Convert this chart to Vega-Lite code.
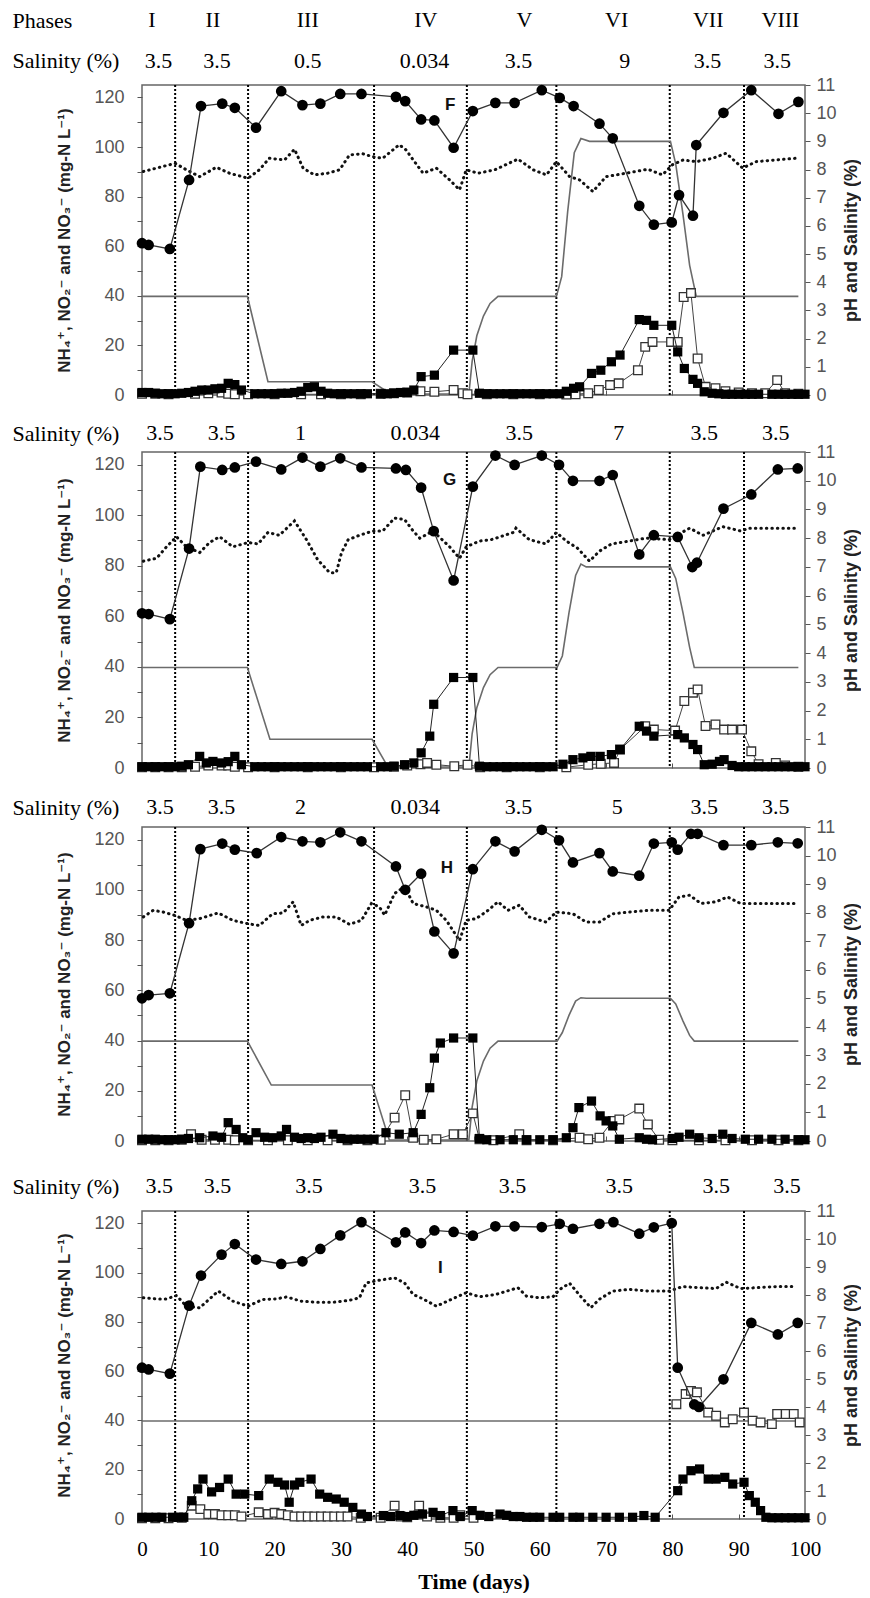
{
"$schema": "https://vega.github.io/schema/vega-lite/v6.json",
"padding": {"left": 12, "top": 0, "right": 0, "bottom": 0},
"spacing": 0,
"bounds": "flush",
"config": {"view": {"stroke": "#666", "strokeWidth": 1.5}, "axis": {"grid": false, "domain": false}, "font": "Liberation Sans"},
"datasets": {
"phase": [{"d":5},{"d":16},{"d":35},{"d":49},{"d":62.5},{"d":79.6},{"d":90.8}],
"lab": [{"p":"F","d":46.5,"v":117,"t":"F"},{"p":"G","d":46.4,"v":114,"t":"G"},{"p":"H","d":46,"v":108.5,"t":"H"},{"p":"I","d":45,"v":102,"t":"I"}],
"hdr": [
{"p":"F","r":"Phases","d":1.5,"t":"I"},{"p":"F","r":"Phases","d":10.7,"t":"II"},{"p":"F","r":"Phases","d":25,"t":"III"},{"p":"F","r":"Phases","d":42.8,"t":"IV"},{"p":"F","r":"Phases","d":57.7,"t":"V"},{"p":"F","r":"Phases","d":71.6,"t":"VI"},{"p":"F","r":"Phases","d":85.4,"t":"VII"},{"p":"F","r":"Phases","d":96.3,"t":"VIII"},
{"p":"F","r":"Salinity (%)","d":2.5,"t":"3.5"},{"p":"F","r":"Salinity (%)","d":11.3,"t":"3.5"},{"p":"F","r":"Salinity (%)","d":25,"t":"0.5"},{"p":"F","r":"Salinity (%)","d":42.6,"t":"0.034"},{"p":"F","r":"Salinity (%)","d":56.8,"t":"3.5"},{"p":"F","r":"Salinity (%)","d":72.8,"t":"9"},{"p":"F","r":"Salinity (%)","d":85.3,"t":"3.5"},{"p":"F","r":"Salinity (%)","d":95.8,"t":"3.5"},
{"p":"G","r":"Salinity (%)","d":2.7,"t":"3.5"},{"p":"G","r":"Salinity (%)","d":12,"t":"3.5"},{"p":"G","r":"Salinity (%)","d":23.9,"t":"1"},{"p":"G","r":"Salinity (%)","d":41.2,"t":"0.034"},{"p":"G","r":"Salinity (%)","d":56.9,"t":"3.5"},{"p":"G","r":"Salinity (%)","d":71.9,"t":"7"},{"p":"G","r":"Salinity (%)","d":84.8,"t":"3.5"},{"p":"G","r":"Salinity (%)","d":95.6,"t":"3.5"},
{"p":"H","r":"Salinity (%)","d":2.7,"t":"3.5"},{"p":"H","r":"Salinity (%)","d":12,"t":"3.5"},{"p":"H","r":"Salinity (%)","d":23.9,"t":"2"},{"p":"H","r":"Salinity (%)","d":41.2,"t":"0.034"},{"p":"H","r":"Salinity (%)","d":56.8,"t":"3.5"},{"p":"H","r":"Salinity (%)","d":71.7,"t":"5"},{"p":"H","r":"Salinity (%)","d":84.8,"t":"3.5"},{"p":"H","r":"Salinity (%)","d":95.6,"t":"3.5"},
{"p":"I","r":"Salinity (%)","d":2.6,"t":"3.5"},{"p":"I","r":"Salinity (%)","d":11.4,"t":"3.5"},{"p":"I","r":"Salinity (%)","d":25.2,"t":"3.5"},{"p":"I","r":"Salinity (%)","d":42.3,"t":"3.5"},{"p":"I","r":"Salinity (%)","d":55.9,"t":"3.5"},{"p":"I","r":"Salinity (%)","d":72,"t":"3.5"},{"p":"I","r":"Salinity (%)","d":86.6,"t":"3.5"},{"p":"I","r":"Salinity (%)","d":97.3,"t":"3.5"}
],
"F_NH4": [{"d":0,"v":61.2},{"d":1,"v":60.5},{"d":4.2,"v":58.9},{"d":7.1,"v":86.7},{"d":8.9,"v":116.5},{"d":12.1,"v":117.5},{"d":14,"v":115.8},{"d":17.2,"v":107.8},{"d":21,"v":122.5},{"d":24.2,"v":116.9},{"d":26.9,"v":117.5},{"d":29.9,"v":121.4},{"d":33.1,"v":121.4},{"d":38.3,"v":120.2},{"d":39.7,"v":118.5},{"d":42.1,"v":111.1},{"d":44.1,"v":110.7},{"d":47,"v":99.7},{"d":49.9,"v":114.5},{"d":53.3,"v":117.8},{"d":56.2,"v":117.8},{"d":60.3,"v":122.9},{"d":63,"v":119.8},{"d":65.1,"v":116.5},{"d":69,"v":109.4},{"d":71,"v":103.5},{"d":75,"v":76.3},{"d":77.2,"v":68.7},{"d":79.9,"v":69.6},{"d":81,"v":80.6},{"d":83.1,"v":72.3},{"d":83.6,"v":100.8},{"d":87.7,"v":113.8},{"d":91.9,"v":122.9},{"d":96,"v":113.4},{"d":99,"v":118.2}],
"F_pH": [{"d":0.2,"v":7.93},{"d":5,"v":8.22},{"d":6.7,"v":7.99},{"d":8.7,"v":7.75},{"d":11.2,"v":8.08},{"d":13.2,"v":7.87},{"d":16,"v":7.69},{"d":17.7,"v":7.99},{"d":19.2,"v":8.4},{"d":21.5,"v":8.34},{"d":23,"v":8.72},{"d":24.3,"v":8.05},{"d":26,"v":7.81},{"d":28,"v":7.87},{"d":29.8,"v":7.99},{"d":31.3,"v":8.52},{"d":33.3,"v":8.56},{"d":34.7,"v":8.46},{"d":36.3,"v":8.4},{"d":38.8,"v":8.88},{"d":39.8,"v":8.7},{"d":41.1,"v":8.28},{"d":42.4,"v":7.87},{"d":44.4,"v":8.05},{"d":46.4,"v":7.63},{"d":47.9,"v":7.28},{"d":48.9,"v":7.99},{"d":50.7,"v":7.87},{"d":53.2,"v":7.99},{"d":56.7,"v":8.37},{"d":59,"v":7.99},{"d":61,"v":7.81},{"d":62.5,"v":8.28},{"d":64.5,"v":7.75},{"d":66,"v":7.63},{"d":68,"v":7.22},{"d":70,"v":7.75},{"d":73,"v":7.87},{"d":76.3,"v":8.01},{"d":78.5,"v":7.81},{"d":80,"v":8.17},{"d":81.6,"v":8.34},{"d":83.6,"v":8.28},{"d":86.1,"v":8.4},{"d":88.1,"v":8.58},{"d":90.6,"v":8.05},{"d":92.6,"v":8.28},{"d":95.6,"v":8.34},{"d":98.6,"v":8.4}],
"F_Sal": [{"d":0,"v":3.5},{"d":15.9,"v":3.5},{"d":19,"v":0.47},{"d":34.7,"v":0.47},{"d":37.5,"v":0.034},{"d":49.3,"v":0.034},{"d":49.8,"v":1.2},{"d":50.5,"v":2.1},{"d":51.5,"v":2.8},{"d":52.5,"v":3.25},{"d":53.7,"v":3.5},{"d":62.5,"v":3.5},{"d":63.3,"v":4.2},{"d":64.2,"v":6.5},{"d":65.2,"v":8.6},{"d":66.2,"v":9.1},{"d":67.5,"v":9},{"d":79.7,"v":9},{"d":80.5,"v":8.2},{"d":81.6,"v":6.4},{"d":82.6,"v":4.6},{"d":83.6,"v":3.5},{"d":99,"v":3.5}],
"F_NO2": [{"d":0,"v":1},{"d":1,"v":1},{"d":2,"v":0.7},{"d":3,"v":0.5},{"d":4,"v":0.5},{"d":5,"v":0.5},{"d":6,"v":0.7},{"d":7,"v":1},{"d":8,"v":1.5},{"d":9,"v":2},{"d":10,"v":2},{"d":11,"v":2.5},{"d":12,"v":2.7},{"d":13,"v":4.7},{"d":14,"v":4.2},{"d":15,"v":2},{"d":17,"v":0.5},{"d":18,"v":0.5},{"d":19,"v":0.5},{"d":20,"v":0.5},{"d":21,"v":0.7},{"d":22,"v":0.7},{"d":23,"v":1},{"d":24,"v":1.5},{"d":25,"v":3},{"d":26,"v":3.3},{"d":27,"v":1.5},{"d":28,"v":0.7},{"d":29,"v":0.5},{"d":30,"v":0.5},{"d":31,"v":0.5},{"d":32,"v":0.5},{"d":33,"v":0.5},{"d":34,"v":0.5},{"d":36,"v":0.5},{"d":37,"v":0.5},{"d":38,"v":0.7},{"d":39,"v":1},{"d":40,"v":1},{"d":41,"v":2},{"d":42.1,"v":7.4},{"d":44.1,"v":8},{"d":47,"v":18.1},{"d":49.9,"v":18.1},{"d":50.9,"v":0.7},{"d":52,"v":0.5},{"d":53,"v":0.5},{"d":54,"v":0.5},{"d":55,"v":0.5},{"d":56,"v":0.5},{"d":57,"v":0.5},{"d":58,"v":0.5},{"d":59,"v":0.5},{"d":60,"v":0.5},{"d":61,"v":0.5},{"d":62,"v":0.5},{"d":63,"v":0.5},{"d":64,"v":1.5},{"d":65.1,"v":2.7},{"d":66,"v":3.3},{"d":67.8,"v":8.7},{"d":69.2,"v":10},{"d":70.8,"v":13.4},{"d":72.1,"v":16.1},{"d":75,"v":30.4},{"d":76.1,"v":30.1},{"d":77.2,"v":28.1},{"d":79.9,"v":28.1},{"d":80.8,"v":17.4},{"d":81.8,"v":10.7},{"d":83.1,"v":6.3},{"d":83.8,"v":4.7},{"d":84.8,"v":1.3},{"d":86,"v":0.7},{"d":87,"v":0.5},{"d":88,"v":0.3},{"d":89,"v":0.3},{"d":90,"v":0.3},{"d":91,"v":0.3},{"d":92,"v":0.3},{"d":93,"v":0.3},{"d":95,"v":0.3},{"d":96,"v":0.3},{"d":97,"v":0.3},{"d":98,"v":0.3},{"d":99,"v":0.3},{"d":100,"v":0.3}],
"F_NO3": [{"d":0,"v":0.5},{"d":2,"v":0.5},{"d":4,"v":0.3},{"d":8,"v":0.5},{"d":10,"v":0.7},{"d":12,"v":1},{"d":13,"v":0.5},{"d":14,"v":0.3},{"d":16,"v":0.3},{"d":20,"v":0.3},{"d":24,"v":0.3},{"d":27,"v":0.3},{"d":30,"v":0.3},{"d":33,"v":0.3},{"d":36,"v":0.5},{"d":38,"v":0.7},{"d":40,"v":1},{"d":42,"v":1.5},{"d":44.1,"v":1.3},{"d":47,"v":2},{"d":48.4,"v":0.7},{"d":49.1,"v":0.3},{"d":52,"v":0.3},{"d":56,"v":0.3},{"d":60,"v":0.3},{"d":64,"v":0.2},{"d":65.4,"v":0.3},{"d":67.3,"v":0.7},{"d":68.9,"v":2},{"d":70.6,"v":4},{"d":71.9,"v":4.7},{"d":74.8,"v":10},{"d":75.9,"v":19.4},{"d":77,"v":21.4},{"d":79.8,"v":21.4},{"d":80.8,"v":21.4},{"d":81.7,"v":39.5},{"d":82.8,"v":41.1},{"d":83.8,"v":14.7},{"d":85,"v":3.3},{"d":86.5,"v":2.7},{"d":88,"v":1.5},{"d":90,"v":1},{"d":92,"v":0.7},{"d":94,"v":0.7},{"d":95.8,"v":6},{"d":97,"v":0.7},{"d":99,"v":0.5}],
"G_NH4": [{"d":0,"v":61.2},{"d":1,"v":60.9},{"d":4.2,"v":58.9},{"d":7.1,"v":86.8},{"d":8.8,"v":119.2},{"d":12.1,"v":117.9},{"d":14,"v":118.9},{"d":17.2,"v":121.2},{"d":21,"v":118.1},{"d":24.2,"v":122.8},{"d":26.9,"v":119.2},{"d":29.9,"v":122.5},{"d":33.1,"v":118.9},{"d":38.3,"v":118.5},{"d":39.8,"v":117.9},{"d":42.1,"v":110.9},{"d":44,"v":93.7},{"d":47,"v":74.2},{"d":49.9,"v":111.3},{"d":53.3,"v":123.6},{"d":56.2,"v":119.9},{"d":60.3,"v":123.6},{"d":62.9,"v":119.9},{"d":65,"v":113.6},{"d":69,"v":113.6},{"d":71,"v":115.9},{"d":75,"v":84.5},{"d":77.2,"v":92.1},{"d":80.8,"v":91.4},{"d":83,"v":79.5},{"d":83.7,"v":81.2},{"d":87.7,"v":102.6},{"d":91.9,"v":108.2},{"d":95.9,"v":118.1},{"d":98.9,"v":118.5}],
"G_pH": [{"d":0.2,"v":7.2},{"d":2.2,"v":7.3},{"d":3.7,"v":7.7},{"d":5.2,"v":8.05},{"d":6.7,"v":7.7},{"d":8.7,"v":7.5},{"d":10.2,"v":7.85},{"d":11.7,"v":8.05},{"d":13.7,"v":7.7},{"d":16,"v":7.85},{"d":17.5,"v":7.8},{"d":19,"v":8.2},{"d":20.7,"v":8.1},{"d":23,"v":8.6},{"d":24.8,"v":7.95},{"d":26.5,"v":7.25},{"d":28.3,"v":6.8},{"d":29.3,"v":6.8},{"d":30.1,"v":7.5},{"d":31.1,"v":7.95},{"d":32.8,"v":8.1},{"d":34.8,"v":8.25},{"d":36.3,"v":8.25},{"d":38.1,"v":8.7},{"d":39.6,"v":8.65},{"d":40.9,"v":8.25},{"d":41.9,"v":8},{"d":43.9,"v":8.25},{"d":46.4,"v":7.7},{"d":47.9,"v":7.3},{"d":48.9,"v":7.7},{"d":50.9,"v":7.9},{"d":52.7,"v":7.95},{"d":56,"v":8.2},{"d":56.4,"v":8.35},{"d":58.4,"v":7.95},{"d":60.9,"v":7.8},{"d":62.5,"v":8.2},{"d":64,"v":7.9},{"d":65.7,"v":7.65},{"d":67.5,"v":7.2},{"d":69,"v":7.55},{"d":70.8,"v":7.8},{"d":73.5,"v":7.9},{"d":76,"v":8},{"d":79.5,"v":7.95},{"d":82.6,"v":8.35},{"d":84.6,"v":8.1},{"d":87.6,"v":8.4},{"d":90.3,"v":8.25},{"d":91.6,"v":8.35},{"d":97.1,"v":8.35},{"d":98.4,"v":8.35}],
"G_Sal": [{"d":0,"v":3.5},{"d":15.9,"v":3.5},{"d":19.3,"v":1},{"d":34.7,"v":1},{"d":37.1,"v":0.034},{"d":49.3,"v":0.034},{"d":49.8,"v":1.2},{"d":50.5,"v":2.1},{"d":51.5,"v":2.8},{"d":52.5,"v":3.25},{"d":53.7,"v":3.5},{"d":62.6,"v":3.5},{"d":63.4,"v":3.9},{"d":64.4,"v":5.4},{"d":65.4,"v":6.7},{"d":66.2,"v":7.1},{"d":67,"v":7},{"d":79.7,"v":7},{"d":80.5,"v":6.6},{"d":81.6,"v":5.4},{"d":82.6,"v":4.2},{"d":83.3,"v":3.5},{"d":99,"v":3.5}],
"G_NO2": [{"d":0,"v":0.5},{"d":1,"v":0.5},{"d":2,"v":0.5},{"d":3,"v":0.5},{"d":4,"v":0.5},{"d":5,"v":0.5},{"d":6,"v":0.7},{"d":7,"v":1.3},{"d":8.7,"v":4.6},{"d":9.7,"v":2},{"d":10.7,"v":2.6},{"d":12,"v":2},{"d":13,"v":2.5},{"d":14,"v":4.6},{"d":15,"v":1.3},{"d":17,"v":0.5},{"d":18,"v":0.5},{"d":19,"v":0.5},{"d":20,"v":0.5},{"d":21,"v":0.5},{"d":22,"v":0.5},{"d":23,"v":0.5},{"d":24,"v":0.5},{"d":25,"v":0.5},{"d":26,"v":0.5},{"d":27,"v":0.5},{"d":28,"v":0.5},{"d":29,"v":0.5},{"d":30,"v":0.5},{"d":31,"v":0.5},{"d":32,"v":0.5},{"d":33,"v":0.5},{"d":34,"v":0.5},{"d":36,"v":0.5},{"d":37,"v":0.5},{"d":38,"v":0.7},{"d":39.6,"v":1.3},{"d":41,"v":2},{"d":42.1,"v":6},{"d":43.4,"v":12.6},{"d":44,"v":25.2},{"d":47,"v":35.8},{"d":49.9,"v":35.8},{"d":50.9,"v":0.7},{"d":52,"v":0.5},{"d":53,"v":0.5},{"d":54,"v":0.5},{"d":55,"v":0.5},{"d":56,"v":0.5},{"d":57,"v":0.5},{"d":58,"v":0.5},{"d":59,"v":0.5},{"d":60,"v":0.5},{"d":61,"v":0.5},{"d":62,"v":0.5},{"d":63.5,"v":1.5},{"d":65,"v":3.3},{"d":66.5,"v":4},{"d":67.7,"v":4.6},{"d":69.1,"v":4.6},{"d":70.8,"v":5.3},{"d":72.1,"v":7.3},{"d":75,"v":16.5},{"d":76.1,"v":14.6},{"d":77.2,"v":12.6},{"d":80.8,"v":13.2},{"d":81.8,"v":11.9},{"d":83.1,"v":9.3},{"d":83.8,"v":7.3},{"d":84.8,"v":1.3},{"d":86,"v":1.5},{"d":87.1,"v":2.6},{"d":87.8,"v":3.3},{"d":89,"v":1},{"d":90,"v":0.5},{"d":91,"v":0.5},{"d":92,"v":0.5},{"d":93,"v":0.5},{"d":94,"v":0.5},{"d":95,"v":0.5},{"d":96,"v":0.5},{"d":97,"v":0.5},{"d":98,"v":0.5},{"d":99,"v":0.5},{"d":100,"v":0.5}],
"G_NO3": [{"d":0,"v":0.3},{"d":2,"v":0.3},{"d":4,"v":0.3},{"d":6,"v":0.3},{"d":8,"v":0.5},{"d":10,"v":1},{"d":12,"v":1},{"d":13,"v":1},{"d":14,"v":0.5},{"d":16,"v":0.3},{"d":20,"v":0.3},{"d":25,"v":0.3},{"d":30,"v":0.3},{"d":35,"v":0.3},{"d":38,"v":0.5},{"d":40,"v":1},{"d":42,"v":1.5},{"d":43,"v":2},{"d":44.4,"v":1.3},{"d":47.1,"v":0.7},{"d":49.1,"v":1.3},{"d":51,"v":0.3},{"d":55,"v":0.3},{"d":60,"v":0.3},{"d":64,"v":0.3},{"d":67.3,"v":1.3},{"d":69.2,"v":1.7},{"d":71.2,"v":2},{"d":72.1,"v":7.3},{"d":75.9,"v":16.5},{"d":77.2,"v":15.2},{"d":80.4,"v":14.8},{"d":81.8,"v":26.5},{"d":83.1,"v":29.8},{"d":83.8,"v":31.1},{"d":85,"v":16.6},{"d":86.5,"v":17.2},{"d":87.8,"v":15.2},{"d":89,"v":15.2},{"d":90.5,"v":15.2},{"d":91.9,"v":6.6},{"d":93,"v":1.5},{"d":95.6,"v":2},{"d":97,"v":1},{"d":99,"v":0.5}],
"H_NH4": [{"d":0,"v":56.8},{"d":1,"v":58.1},{"d":4.2,"v":58.8},{"d":7.1,"v":86.7},{"d":8.8,"v":116.2},{"d":12.1,"v":118.4},{"d":14,"v":116},{"d":17.3,"v":114.6},{"d":21,"v":121},{"d":24.2,"v":119.3},{"d":26.9,"v":118.9},{"d":29.9,"v":122.9},{"d":33.1,"v":119.3},{"d":38.3,"v":109.3},{"d":39.7,"v":100},{"d":42.1,"v":106.4},{"d":44.1,"v":83.4},{"d":47,"v":74.7},{"d":49.9,"v":108.2},{"d":53.3,"v":119.3},{"d":56.2,"v":115.3},{"d":60.3,"v":123.9},{"d":62.9,"v":119.7},{"d":65,"v":110.9},{"d":69,"v":114.6},{"d":71,"v":107.3},{"d":75,"v":105.6},{"d":77.2,"v":118.4},{"d":79.9,"v":118.9},{"d":80.8,"v":116},{"d":82.8,"v":122.3},{"d":83.8,"v":122.3},{"d":87.7,"v":117.8},{"d":91.9,"v":117.8},{"d":95.9,"v":118.9},{"d":98.9,"v":118.5}],
"H_pH": [{"d":0.2,"v":7.85},{"d":1.7,"v":8.08},{"d":3.2,"v":8.02},{"d":5,"v":7.9},{"d":6.7,"v":7.73},{"d":8.7,"v":7.79},{"d":11.5,"v":7.99},{"d":13.7,"v":7.73},{"d":16,"v":7.61},{"d":17.7,"v":7.55},{"d":19.7,"v":7.96},{"d":21.3,"v":7.99},{"d":22.8,"v":8.38},{"d":24,"v":7.55},{"d":25.3,"v":7.73},{"d":27.3,"v":7.85},{"d":29.3,"v":7.85},{"d":31.3,"v":7.59},{"d":33.1,"v":7.73},{"d":34.6,"v":8.32},{"d":35.8,"v":8.2},{"d":36.6,"v":7.91},{"d":38.1,"v":8.67},{"d":39.6,"v":8.91},{"d":40.9,"v":8.32},{"d":42.9,"v":8.2},{"d":44.4,"v":8.08},{"d":45.9,"v":7.73},{"d":47.9,"v":7.02},{"d":48.9,"v":7.73},{"d":50.4,"v":7.79},{"d":52.2,"v":8.08},{"d":53.7,"v":8.38},{"d":55.2,"v":8.08},{"d":56.9,"v":8.26},{"d":58.4,"v":7.85},{"d":60.9,"v":7.67},{"d":62.5,"v":8.02},{"d":65,"v":7.96},{"d":67,"v":7.67},{"d":69,"v":7.67},{"d":71,"v":7.96},{"d":73.5,"v":8.02},{"d":76.5,"v":8.08},{"d":79.5,"v":8.08},{"d":81,"v":8.55},{"d":82.6,"v":8.61},{"d":84.3,"v":8.32},{"d":86.6,"v":8.38},{"d":88.3,"v":8.55},{"d":90.3,"v":8.32},{"d":92.6,"v":8.32},{"d":95.6,"v":8.32},{"d":98.6,"v":8.32}],
"H_Sal": [{"d":0,"v":3.5},{"d":15.9,"v":3.5},{"d":19.5,"v":1.96},{"d":34.7,"v":1.96},{"d":37.3,"v":0.034},{"d":49.3,"v":0.034},{"d":49.8,"v":1.2},{"d":50.5,"v":2.1},{"d":51.5,"v":2.8},{"d":52.5,"v":3.25},{"d":53.7,"v":3.5},{"d":62.6,"v":3.5},{"d":63.4,"v":3.8},{"d":64.4,"v":4.4},{"d":65.4,"v":4.9},{"d":66.2,"v":5.02},{"d":67,"v":5},{"d":79.7,"v":5},{"d":80.5,"v":4.8},{"d":81.6,"v":4.2},{"d":82.6,"v":3.7},{"d":83.3,"v":3.5},{"d":99,"v":3.5}],
"H_NO2": [{"d":0,"v":0.7},{"d":1,"v":0.7},{"d":2,"v":0.7},{"d":3,"v":0.5},{"d":4,"v":0.5},{"d":5,"v":0.5},{"d":6,"v":0.7},{"d":7,"v":1},{"d":8.7,"v":1.3},{"d":10.7,"v":2},{"d":12,"v":1.5},{"d":13,"v":7.3},{"d":14.2,"v":4.6},{"d":15.2,"v":1.3},{"d":16,"v":0.5},{"d":17.2,"v":3.3},{"d":18.5,"v":1.5},{"d":19.7,"v":1.3},{"d":21,"v":2},{"d":21.8,"v":4.6},{"d":23,"v":1.5},{"d":24,"v":1},{"d":25,"v":1.3},{"d":26,"v":1},{"d":27,"v":1.5},{"d":28.8,"v":2.7},{"d":30,"v":1},{"d":31,"v":0.7},{"d":32,"v":0.7},{"d":33,"v":0.7},{"d":34,"v":0.7},{"d":35,"v":0.7},{"d":36.8,"v":3.3},{"d":38.8,"v":2.7},{"d":40.9,"v":3.3},{"d":42.1,"v":10.6},{"d":43.4,"v":21.2},{"d":44.1,"v":33},{"d":45,"v":39},{"d":47,"v":41},{"d":49.9,"v":41},{"d":50.9,"v":1},{"d":52,"v":0.5},{"d":54,"v":0.5},{"d":56,"v":0.5},{"d":58,"v":0.5},{"d":60,"v":0.5},{"d":62,"v":0.5},{"d":64,"v":1.3},{"d":65,"v":5.3},{"d":65.9,"v":13.3},{"d":67.8,"v":15.9},{"d":69.1,"v":10},{"d":70,"v":8},{"d":71,"v":6},{"d":72,"v":0.7},{"d":75,"v":1.3},{"d":76.1,"v":0.7},{"d":77,"v":0.5},{"d":80,"v":1},{"d":81,"v":1.5},{"d":82.6,"v":2.7},{"d":84,"v":1.3},{"d":86,"v":1},{"d":87.6,"v":2.7},{"d":89,"v":1},{"d":91,"v":0.7},{"d":93,"v":0.7},{"d":95,"v":0.7},{"d":97,"v":0.7},{"d":99,"v":0.5},{"d":100,"v":0.5}],
"H_NO3": [{"d":0,"v":0.3},{"d":2,"v":0.3},{"d":4,"v":0.3},{"d":6,"v":0.5},{"d":7.4,"v":2.7},{"d":9,"v":0.5},{"d":11,"v":0.5},{"d":13,"v":0.5},{"d":14,"v":0.3},{"d":16,"v":0.3},{"d":19,"v":0.3},{"d":22,"v":0.3},{"d":25,"v":0.3},{"d":28,"v":0.3},{"d":31,"v":0.3},{"d":34,"v":0.3},{"d":36,"v":0.5},{"d":38.1,"v":9.3},{"d":39.7,"v":18.2},{"d":40.9,"v":1.3},{"d":42.5,"v":0.5},{"d":44.4,"v":0.7},{"d":47,"v":2.7},{"d":48.4,"v":2.7},{"d":49.9,"v":11},{"d":50.9,"v":0.7},{"d":53,"v":0.3},{"d":56.9,"v":2.7},{"d":58,"v":0.3},{"d":62,"v":0.3},{"d":66,"v":1.3},{"d":67.3,"v":0.7},{"d":69,"v":1.3},{"d":71,"v":8},{"d":72,"v":8.6},{"d":75,"v":12.9},{"d":76.3,"v":6.6},{"d":78,"v":0.5},{"d":80,"v":0.3},{"d":84,"v":0.3},{"d":88,"v":0.3},{"d":92,"v":0.3},{"d":96,"v":0.3},{"d":99,"v":0.3}],
"I_NH4": [{"d":0,"v":61.4},{"d":1,"v":60.7},{"d":4.2,"v":59},{"d":7.1,"v":86.6},{"d":8.9,"v":98.8},{"d":12,"v":107.3},{"d":14,"v":111.6},{"d":17.2,"v":105.3},{"d":21,"v":103.5},{"d":24.2,"v":104.6},{"d":26.9,"v":109.6},{"d":29.9,"v":115.1},{"d":33.1,"v":120.5},{"d":38.3,"v":112.3},{"d":39.7,"v":116.3},{"d":42.1,"v":112},{"d":44.1,"v":117.1},{"d":47,"v":116.5},{"d":49.9,"v":115},{"d":53.3,"v":118.8},{"d":56.2,"v":118.8},{"d":60.3,"v":118.5},{"d":63,"v":119.8},{"d":65,"v":117.8},{"d":69,"v":119.8},{"d":71.1,"v":120.5},{"d":75,"v":115.8},{"d":77.2,"v":118.4},{"d":79.9,"v":120.1},{"d":80.8,"v":61.4},{"d":83.3,"v":46.5},{"d":84,"v":45.5},{"d":87.7,"v":56.7},{"d":91.9,"v":79.6},{"d":95.9,"v":74.9},{"d":98.9,"v":79.6}],
"I_pH": [{"d":0.2,"v":7.9},{"d":2.2,"v":7.86},{"d":3.7,"v":7.86},{"d":5.2,"v":7.98},{"d":6.7,"v":7.6},{"d":8.7,"v":7.54},{"d":11.5,"v":8.14},{"d":13.7,"v":7.78},{"d":16,"v":7.6},{"d":18.2,"v":7.84},{"d":20.2,"v":7.86},{"d":21.8,"v":7.93},{"d":24,"v":7.78},{"d":26.3,"v":7.74},{"d":28.8,"v":7.74},{"d":31.3,"v":7.81},{"d":32.8,"v":7.9},{"d":33.8,"v":8.43},{"d":35.8,"v":8.53},{"d":38.1,"v":8.61},{"d":39.6,"v":8.43},{"d":40.9,"v":8.02},{"d":42.4,"v":7.86},{"d":44.4,"v":7.6},{"d":46.9,"v":7.87},{"d":48.9,"v":8.08},{"d":50.9,"v":7.94},{"d":53.4,"v":8.02},{"d":56.7,"v":8.26},{"d":58,"v":7.96},{"d":60,"v":7.9},{"d":62,"v":7.94},{"d":63,"v":8.2},{"d":64.5,"v":8.42},{"d":66.2,"v":7.94},{"d":67.7,"v":7.55},{"d":69,"v":7.85},{"d":71,"v":8.14},{"d":73.5,"v":8.2},{"d":76.5,"v":8.14},{"d":79.5,"v":8.14},{"d":81.5,"v":8.3},{"d":84.1,"v":8.26},{"d":86.6,"v":8.23},{"d":88.1,"v":8.46},{"d":90.3,"v":8.23},{"d":92.6,"v":8.26},{"d":95.6,"v":8.3},{"d":98.6,"v":8.3}],
"I_Sal": [{"d":0,"v":3.5},{"d":99.5,"v":3.5}],
"I_NO2": [{"d":0,"v":0.7},{"d":1,"v":0.7},{"d":2.1,"v":0.7},{"d":3,"v":0.7},{"d":4.6,"v":0.7},{"d":5.5,"v":0.7},{"d":6.3,"v":0.7},{"d":7.5,"v":7.4},{"d":8.4,"v":12.2},{"d":9.2,"v":16.2},{"d":10.5,"v":11},{"d":11.7,"v":12.8},{"d":13,"v":16.2},{"d":14.2,"v":10.1},{"d":15.5,"v":10.1},{"d":17.6,"v":9.5},{"d":19.2,"v":16.2},{"d":20.5,"v":14.9},{"d":21.5,"v":13.8},{"d":22.2,"v":6.8},{"d":23,"v":13.8},{"d":23.8,"v":14.9},{"d":25.5,"v":16.2},{"d":26.8,"v":10.1},{"d":28,"v":8.8},{"d":29.3,"v":8.1},{"d":30.5,"v":6.8},{"d":31.8,"v":4.7},{"d":33.1,"v":2},{"d":34,"v":1},{"d":36.4,"v":1.4},{"d":37.5,"v":1},{"d":38.9,"v":1.4},{"d":40,"v":1},{"d":41,"v":1.5},{"d":42.3,"v":2},{"d":43.9,"v":2.7},{"d":45,"v":1.4},{"d":46.9,"v":3.4},{"d":48,"v":1},{"d":49.8,"v":3.4},{"d":51,"v":1.5},{"d":52.3,"v":1},{"d":54,"v":2},{"d":55,"v":1.5},{"d":56,"v":1},{"d":57,"v":1},{"d":58,"v":0.7},{"d":59,"v":0.7},{"d":60,"v":0.7},{"d":62,"v":0.7},{"d":63,"v":0.7},{"d":65,"v":0.7},{"d":66,"v":0.7},{"d":68,"v":0.7},{"d":70,"v":0.7},{"d":72,"v":0.7},{"d":74,"v":0.7},{"d":75.7,"v":1.4},{"d":77.4,"v":0.7},{"d":80.8,"v":11.5},{"d":81.6,"v":16.2},{"d":82.8,"v":19.6},{"d":84.1,"v":20.3},{"d":85.4,"v":16.2},{"d":86.6,"v":16.2},{"d":87.9,"v":16.9},{"d":89.1,"v":14.2},{"d":90.8,"v":14.9},{"d":91.6,"v":9.5},{"d":92.5,"v":6.8},{"d":93.3,"v":3.4},{"d":94.1,"v":0.7},{"d":95,"v":0.5},{"d":96,"v":0.5},{"d":97,"v":0.5},{"d":98,"v":0.5},{"d":99,"v":0.5},{"d":100,"v":0.5}],
"I_NO3": [{"g":1,"d":0,"v":0.3},{"g":1,"d":2,"v":0.3},{"g":1,"d":4,"v":0.3},{"g":1,"d":6,"v":0.5},{"g":1,"d":7.5,"v":5.4},{"g":1,"d":8.8,"v":4},{"g":1,"d":10,"v":2},{"g":1,"d":11,"v":2},{"g":1,"d":12,"v":1.5},{"g":1,"d":13,"v":1.5},{"g":1,"d":14,"v":1.5},{"g":1,"d":15,"v":1},{"g":1,"d":17.6,"v":2.7},{"g":1,"d":19,"v":2},{"g":1,"d":20,"v":2.5},{"g":1,"d":21,"v":2},{"g":1,"d":22,"v":1.5},{"g":1,"d":23,"v":1},{"g":1,"d":24,"v":1},{"g":1,"d":25,"v":1},{"g":1,"d":26,"v":1},{"g":1,"d":27,"v":1},{"g":1,"d":28,"v":1},{"g":1,"d":29,"v":1},{"g":1,"d":30,"v":1},{"g":1,"d":31,"v":1},{"g":1,"d":33,"v":0.5},{"g":1,"d":36,"v":0.5},{"g":1,"d":38.1,"v":5.4},{"g":1,"d":39,"v":1},{"g":1,"d":40,"v":0.7},{"g":1,"d":41.8,"v":5.4},{"g":1,"d":43,"v":1},{"g":1,"d":45,"v":0.5},{"g":1,"d":47,"v":0.5},{"g":1,"d":48,"v":1.5},{"g":1,"d":50,"v":0.5},{"g":2,"d":80.6,"v":46.6},{"g":2,"d":82,"v":50.7},{"g":2,"d":82.8,"v":52},{"g":2,"d":83.7,"v":51.4},{"g":2,"d":85.4,"v":43.2},{"g":2,"d":86.6,"v":41.9},{"g":2,"d":87.9,"v":39.2},{"g":2,"d":89.1,"v":40.5},{"g":2,"d":90.8,"v":43.2},{"g":2,"d":92.1,"v":39.9},{"g":2,"d":93.3,"v":39.2},{"g":2,"d":95,"v":38.5},{"g":2,"d":95.8,"v":42.6},{"g":2,"d":97.1,"v":42.6},{"g":2,"d":98.3,"v":42.6},{"g":2,"d":99.2,"v":39.2}]
},
"vconcat": [
{"width": 663, "height": 85, "view": {"stroke": null}, "data": {"name": "hdr"}, "transform": [{"filter": "datum.p == 'F'"}],
 "mark": {"type": "text", "font": "Liberation Serif", "fontSize": 22, "baseline": "middle", "color": "#000"},
 "encoding": {"x": {"field": "d", "type": "quantitative", "scale": {"domain": [0, 100]}, "axis": null},
  "y": {"field": "r", "type": "nominal", "sort": ["Phases", "Salinity (%)"], "scale": {"type": "point", "padding": 0.537, "align": 0.4545}, "axis": {"title": null, "ticks": false, "labelAlign": "left", "labelPadding": 130, "labelFont": "Liberation Serif", "labelFontSize": 22, "labelColor": "#000", "labelBaseline": "middle"}},
  "text": {"field": "t"}}},
{"width": 663, "height": 310,
 "encoding": {"x": {"field": "d", "type": "quantitative", "scale": {"domain": [0, 100], "nice": false}, "axis": {"values": [0,10,20,30,40,50,60,70,80,90,100], "labels": false, "tickSize": -5, "tickColor": "#555", "title": null}}},
 "layer": [
  {"data": {"name": "phase"}, "mark": {"type": "rule", "color": "#000", "strokeWidth": 2, "strokeDash": [2, 2]}, "encoding": {}},
  {"encoding": {"y": {"field": "v", "type": "quantitative", "scale": {"domain": [0, 11], "nice": false}, "axis": {"orient": "right", "values": [0,1,2,3,4,5,6,7,8,9,10,11], "tickSize": 5, "tickColor": "#555", "labelFont": "Liberation Sans", "labelFontSize": 18, "labelColor": "#555", "labelPadding": 6, "title": "pH and Salinity (%)", "titleFont": "Liberation Sans", "titleFontSize": 18, "titleFontWeight": "bold", "titleColor": "#222", "titleAngle": 270, "titlePadding": 24}}},
   "layer": [
    {"data": {"name": "F_Sal"}, "mark": {"type": "line", "color": "#6b6b6b", "strokeWidth": 1.6}, "encoding": {}},
    {"data": {"name": "F_pH"}, "mark": {"type": "line", "color": "#111", "strokeWidth": 3, "strokeDash": [0.5, 5], "strokeCap": "round"}, "encoding": {}}
   ]},
  {"encoding": {"y": {"field": "v", "type": "quantitative", "scale": {"domain": [0, 125], "nice": false}, "axis": {"orient": "left", "values": [0,10,20,30,40,50,60,70,80,90,100,110,120], "labelExpr": "datum.value % 20 === 0 ? datum.label : ''", "tickSize": 5, "tickColor": "#555", "labelFont": "Liberation Sans", "labelFontSize": 18, "labelColor": "#555", "labelPadding": 13, "title": "NH₄⁺, NO₂⁻ and NO₃⁻ (mg-N L⁻¹)", "titleFont": "Liberation Sans, DejaVu Sans", "titleFontSize": 17, "titleFontWeight": "bold", "titleColor": "#222", "titlePadding": 20}}},
   "layer": [
    {"data": {"name": "F_NO3"}, "mark": {"type": "line", "color": "#444", "strokeWidth": 1}, "encoding": {}},
    {"data": {"name": "F_NO3"}, "mark": {"type": "point", "shape": "square", "size": 75, "filled": true, "fill": "#fff", "stroke": "#333", "strokeWidth": 1.3, "opacity": 1}, "encoding": {}},
    {"data": {"name": "F_NO2"}, "mark": {"type": "line", "color": "#222", "strokeWidth": 1}, "encoding": {}},
    {"data": {"name": "F_NO2"}, "mark": {"type": "point", "shape": "square", "size": 85, "filled": true, "color": "#000", "opacity": 1}, "encoding": {}},
    {"data": {"name": "F_NH4"}, "mark": {"type": "line", "color": "#333", "strokeWidth": 1.3}, "encoding": {}},
    {"data": {"name": "F_NH4"}, "mark": {"type": "point", "shape": "circle", "size": 115, "filled": true, "color": "#000", "opacity": 1}, "encoding": {}},
    {"data": {"name": "lab"}, "transform": [{"filter": "datum.p == 'F'"}], "mark": {"type": "text", "fontWeight": "bold", "fontSize": 17, "color": "#111"}, "encoding": {"text": {"field": "t"}}}
   ]}
 ],
 "resolve": {"scale": {"y": "independent"}}},
{"width": 663, "height": 57, "view": {"stroke": null}, "data": {"name": "hdr"}, "transform": [{"filter": "datum.p == 'G'"}],
 "mark": {"type": "text", "font": "Liberation Serif", "fontSize": 22, "baseline": "middle", "color": "#000"},
 "encoding": {"x": {"field": "d", "type": "quantitative", "scale": {"domain": [0, 100]}, "axis": null},
  "y": {"field": "r", "type": "nominal", "scale": {"type": "point", "padding": 0, "align": 0.667}, "axis": {"title": null, "ticks": false, "labelAlign": "left", "labelPadding": 130, "labelFont": "Liberation Serif", "labelFontSize": 22, "labelColor": "#000", "labelBaseline": "middle"}},
  "text": {"field": "t"}}},
{"width": 663, "height": 316,
 "encoding": {"x": {"field": "d", "type": "quantitative", "scale": {"domain": [0, 100], "nice": false}, "axis": {"values": [0,10,20,30,40,50,60,70,80,90,100], "labels": false, "tickSize": -5, "tickColor": "#555", "title": null}}},
 "layer": [
  {"data": {"name": "phase"}, "mark": {"type": "rule", "color": "#000", "strokeWidth": 2, "strokeDash": [2, 2]}, "encoding": {}},
  {"encoding": {"y": {"field": "v", "type": "quantitative", "scale": {"domain": [0, 11], "nice": false}, "axis": {"orient": "right", "values": [0,1,2,3,4,5,6,7,8,9,10,11], "tickSize": 5, "tickColor": "#555", "labelFont": "Liberation Sans", "labelFontSize": 18, "labelColor": "#555", "labelPadding": 6, "title": "pH and Salinity (%)", "titleFont": "Liberation Sans", "titleFontSize": 18, "titleFontWeight": "bold", "titleColor": "#222", "titleAngle": 270, "titlePadding": 24}}},
   "layer": [
    {"data": {"name": "G_Sal"}, "mark": {"type": "line", "color": "#6b6b6b", "strokeWidth": 1.6}, "encoding": {}},
    {"data": {"name": "G_pH"}, "mark": {"type": "line", "color": "#111", "strokeWidth": 3, "strokeDash": [0.5, 5], "strokeCap": "round"}, "encoding": {}}
   ]},
  {"encoding": {"y": {"field": "v", "type": "quantitative", "scale": {"domain": [0, 125], "nice": false}, "axis": {"orient": "left", "values": [0,10,20,30,40,50,60,70,80,90,100,110,120], "labelExpr": "datum.value % 20 === 0 ? datum.label : ''", "tickSize": 5, "tickColor": "#555", "labelFont": "Liberation Sans", "labelFontSize": 18, "labelColor": "#555", "labelPadding": 13, "title": "NH₄⁺, NO₂⁻ and NO₃⁻ (mg-N L⁻¹)", "titleFont": "Liberation Sans, DejaVu Sans", "titleFontSize": 17, "titleFontWeight": "bold", "titleColor": "#222", "titlePadding": 20}}},
   "layer": [
    {"data": {"name": "G_NO3"}, "mark": {"type": "line", "color": "#444", "strokeWidth": 1}, "encoding": {}},
    {"data": {"name": "G_NO3"}, "mark": {"type": "point", "shape": "square", "size": 75, "filled": true, "fill": "#fff", "stroke": "#333", "strokeWidth": 1.3, "opacity": 1}, "encoding": {}},
    {"data": {"name": "G_NO2"}, "mark": {"type": "line", "color": "#222", "strokeWidth": 1}, "encoding": {}},
    {"data": {"name": "G_NO2"}, "mark": {"type": "point", "shape": "square", "size": 85, "filled": true, "color": "#000", "opacity": 1}, "encoding": {}},
    {"data": {"name": "G_NH4"}, "mark": {"type": "line", "color": "#333", "strokeWidth": 1.3}, "encoding": {}},
    {"data": {"name": "G_NH4"}, "mark": {"type": "point", "shape": "circle", "size": 115, "filled": true, "color": "#000", "opacity": 1}, "encoding": {}},
    {"data": {"name": "lab"}, "transform": [{"filter": "datum.p == 'G'"}], "mark": {"type": "text", "fontWeight": "bold", "fontSize": 17, "color": "#111"}, "encoding": {"text": {"field": "t"}}}
   ]}
 ],
 "resolve": {"scale": {"y": "independent"}}},
{"width": 663, "height": 59, "view": {"stroke": null}, "data": {"name": "hdr"}, "transform": [{"filter": "datum.p == 'H'"}],
 "mark": {"type": "text", "font": "Liberation Serif", "fontSize": 22, "baseline": "middle", "color": "#000"},
 "encoding": {"x": {"field": "d", "type": "quantitative", "scale": {"domain": [0, 100]}, "axis": null},
  "y": {"field": "r", "type": "nominal", "scale": {"type": "point", "padding": 0, "align": 0.666}, "axis": {"title": null, "ticks": false, "labelAlign": "left", "labelPadding": 130, "labelFont": "Liberation Serif", "labelFontSize": 22, "labelColor": "#000", "labelBaseline": "middle"}},
  "text": {"field": "t"}}},
{"width": 663, "height": 314,
 "encoding": {"x": {"field": "d", "type": "quantitative", "scale": {"domain": [0, 100], "nice": false}, "axis": {"values": [0,10,20,30,40,50,60,70,80,90,100], "labels": false, "tickSize": -5, "tickColor": "#555", "title": null}}},
 "layer": [
  {"data": {"name": "phase"}, "mark": {"type": "rule", "color": "#000", "strokeWidth": 2, "strokeDash": [2, 2]}, "encoding": {}},
  {"encoding": {"y": {"field": "v", "type": "quantitative", "scale": {"domain": [0, 11], "nice": false}, "axis": {"orient": "right", "values": [0,1,2,3,4,5,6,7,8,9,10,11], "tickSize": 5, "tickColor": "#555", "labelFont": "Liberation Sans", "labelFontSize": 18, "labelColor": "#555", "labelPadding": 6, "title": "pH and Salinity (%)", "titleFont": "Liberation Sans", "titleFontSize": 18, "titleFontWeight": "bold", "titleColor": "#222", "titleAngle": 270, "titlePadding": 24}}},
   "layer": [
    {"data": {"name": "H_Sal"}, "mark": {"type": "line", "color": "#6b6b6b", "strokeWidth": 1.6}, "encoding": {}},
    {"data": {"name": "H_pH"}, "mark": {"type": "line", "color": "#111", "strokeWidth": 3, "strokeDash": [0.5, 5], "strokeCap": "round"}, "encoding": {}}
   ]},
  {"encoding": {"y": {"field": "v", "type": "quantitative", "scale": {"domain": [0, 125], "nice": false}, "axis": {"orient": "left", "values": [0,10,20,30,40,50,60,70,80,90,100,110,120], "labelExpr": "datum.value % 20 === 0 ? datum.label : ''", "tickSize": 5, "tickColor": "#555", "labelFont": "Liberation Sans", "labelFontSize": 18, "labelColor": "#555", "labelPadding": 13, "title": "NH₄⁺, NO₂⁻ and NO₃⁻ (mg-N L⁻¹)", "titleFont": "Liberation Sans, DejaVu Sans", "titleFontSize": 17, "titleFontWeight": "bold", "titleColor": "#222", "titlePadding": 20}}},
   "layer": [
    {"data": {"name": "H_NO3"}, "mark": {"type": "line", "color": "#444", "strokeWidth": 1}, "encoding": {}},
    {"data": {"name": "H_NO3"}, "mark": {"type": "point", "shape": "square", "size": 75, "filled": true, "fill": "#fff", "stroke": "#333", "strokeWidth": 1.3, "opacity": 1}, "encoding": {}},
    {"data": {"name": "H_NO2"}, "mark": {"type": "line", "color": "#222", "strokeWidth": 1}, "encoding": {}},
    {"data": {"name": "H_NO2"}, "mark": {"type": "point", "shape": "square", "size": 85, "filled": true, "color": "#000", "opacity": 1}, "encoding": {}},
    {"data": {"name": "H_NH4"}, "mark": {"type": "line", "color": "#333", "strokeWidth": 1.3}, "encoding": {}},
    {"data": {"name": "H_NH4"}, "mark": {"type": "point", "shape": "circle", "size": 115, "filled": true, "color": "#000", "opacity": 1}, "encoding": {}},
    {"data": {"name": "lab"}, "transform": [{"filter": "datum.p == 'H'"}], "mark": {"type": "text", "fontWeight": "bold", "fontSize": 17, "color": "#111"}, "encoding": {"text": {"field": "t"}}}
   ]}
 ],
 "resolve": {"scale": {"y": "independent"}}},
{"width": 663, "height": 70, "view": {"stroke": null}, "data": {"name": "hdr"}, "transform": [{"filter": "datum.p == 'I'"}],
 "mark": {"type": "text", "font": "Liberation Serif", "fontSize": 22, "baseline": "middle", "color": "#000"},
 "encoding": {"x": {"field": "d", "type": "quantitative", "scale": {"domain": [0, 100]}, "axis": null},
  "y": {"field": "r", "type": "nominal", "scale": {"type": "point", "padding": 0, "align": 0.643}, "axis": {"title": null, "ticks": false, "labelAlign": "left", "labelPadding": 130, "labelFont": "Liberation Serif", "labelFontSize": 22, "labelColor": "#000", "labelBaseline": "middle"}},
  "text": {"field": "t"}}},
{"width": 663, "height": 308,
 "encoding": {"x": {"field": "d", "type": "quantitative", "scale": {"domain": [0, 100], "nice": false}, "axis": {"values": [0,10,20,30,40,50,60,70,80,90,100], "tickSize": -5, "tickColor": "#555", "labelFont": "Liberation Serif", "labelFontSize": 21, "labelColor": "#000", "labelPadding": 24, "labelFlush": false, "title": "Time (days)", "titleFont": "Liberation Serif", "titleFontSize": 22, "titleFontWeight": "bold", "titleColor": "#000", "titlePadding": 12}}},
 "layer": [
  {"data": {"name": "phase"}, "mark": {"type": "rule", "color": "#000", "strokeWidth": 2, "strokeDash": [2, 2]}, "encoding": {}},
  {"encoding": {"y": {"field": "v", "type": "quantitative", "scale": {"domain": [0, 11], "nice": false}, "axis": {"orient": "right", "values": [0,1,2,3,4,5,6,7,8,9,10,11], "tickSize": 5, "tickColor": "#555", "labelFont": "Liberation Sans", "labelFontSize": 18, "labelColor": "#555", "labelPadding": 6, "title": "pH and Salinity (%)", "titleFont": "Liberation Sans", "titleFontSize": 18, "titleFontWeight": "bold", "titleColor": "#222", "titleAngle": 270, "titlePadding": 24}}},
   "layer": [
    {"data": {"name": "I_Sal"}, "mark": {"type": "line", "color": "#6b6b6b", "strokeWidth": 1.6}, "encoding": {}},
    {"data": {"name": "I_pH"}, "mark": {"type": "line", "color": "#111", "strokeWidth": 3, "strokeDash": [0.5, 5], "strokeCap": "round"}, "encoding": {}}
   ]},
  {"encoding": {"y": {"field": "v", "type": "quantitative", "scale": {"domain": [0, 125], "nice": false}, "axis": {"orient": "left", "values": [0,10,20,30,40,50,60,70,80,90,100,110,120], "labelExpr": "datum.value % 20 === 0 ? datum.label : ''", "tickSize": 5, "tickColor": "#555", "labelFont": "Liberation Sans", "labelFontSize": 18, "labelColor": "#555", "labelPadding": 13, "title": "NH₄⁺, NO₂⁻ and NO₃⁻ (mg-N L⁻¹)", "titleFont": "Liberation Sans, DejaVu Sans", "titleFontSize": 17, "titleFontWeight": "bold", "titleColor": "#222", "titlePadding": 20}}},
   "layer": [
    {"data": {"name": "I_NO3"}, "mark": {"type": "line", "color": "#444", "strokeWidth": 1}, "encoding": {"detail": {"field": "g", "type": "nominal"}}},
    {"data": {"name": "I_NO3"}, "mark": {"type": "point", "shape": "square", "size": 75, "filled": true, "fill": "#fff", "stroke": "#333", "strokeWidth": 1.3, "opacity": 1}, "encoding": {}},
    {"data": {"name": "I_NO2"}, "mark": {"type": "line", "color": "#222", "strokeWidth": 1}, "encoding": {}},
    {"data": {"name": "I_NO2"}, "mark": {"type": "point", "shape": "square", "size": 85, "filled": true, "color": "#000", "opacity": 1}, "encoding": {}},
    {"data": {"name": "I_NH4"}, "mark": {"type": "line", "color": "#333", "strokeWidth": 1.3}, "encoding": {}},
    {"data": {"name": "I_NH4"}, "mark": {"type": "point", "shape": "circle", "size": 115, "filled": true, "color": "#000", "opacity": 1}, "encoding": {}},
    {"data": {"name": "lab"}, "transform": [{"filter": "datum.p == 'I'"}], "mark": {"type": "text", "fontWeight": "bold", "fontSize": 17, "color": "#111"}, "encoding": {"text": {"field": "t"}}}
   ]}
 ],
 "resolve": {"scale": {"y": "independent"}}}
]
}
